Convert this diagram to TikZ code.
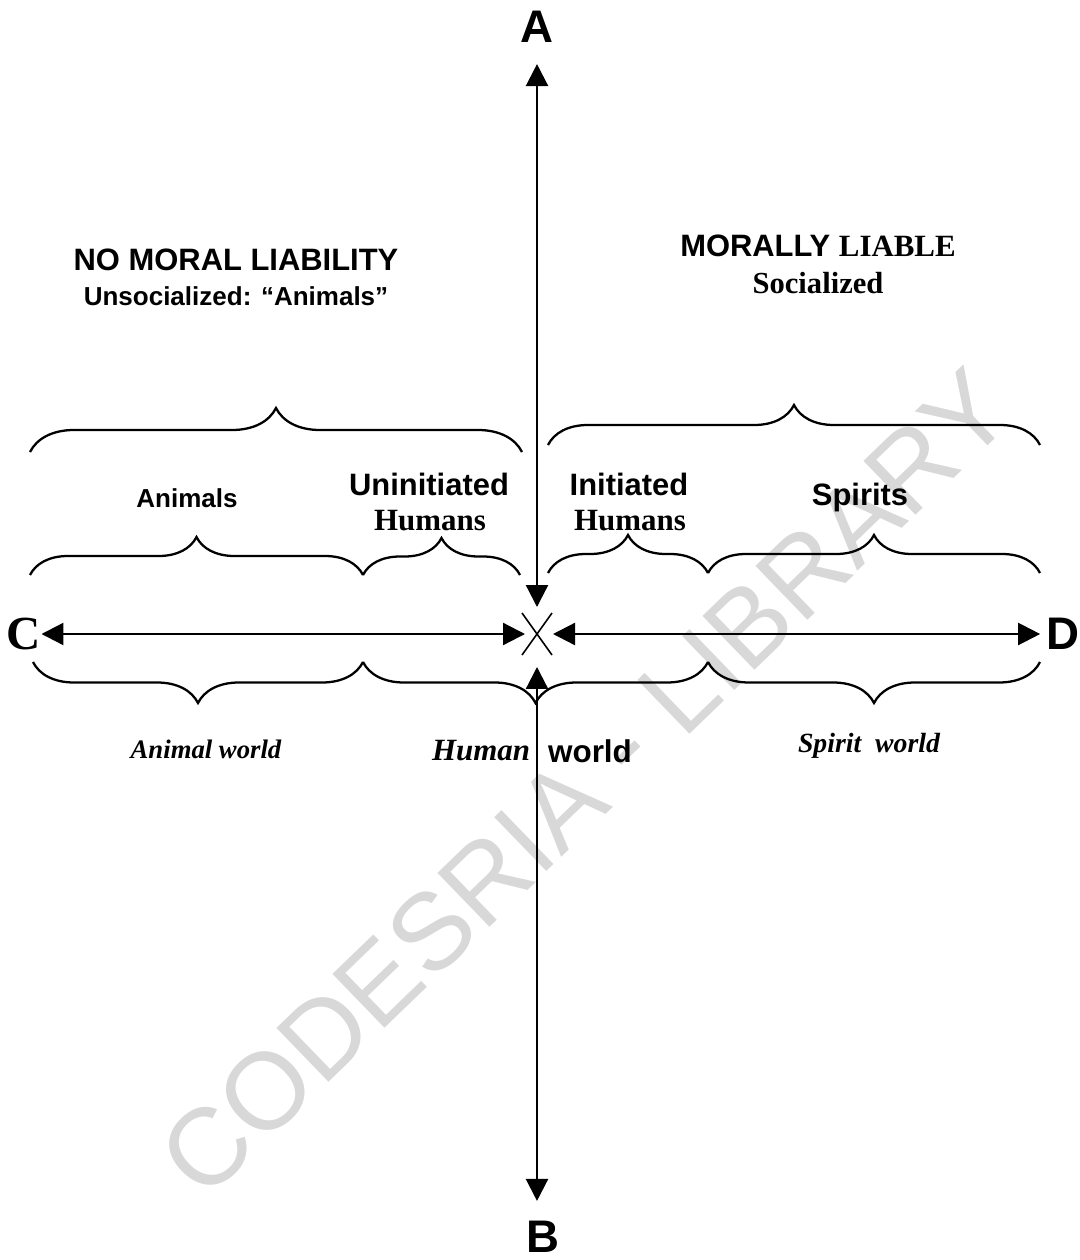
\documentclass[tikz,border=0pt]{standalone}
\usepackage{fontspec}
\setmainfont{Liberation Serif}
\setsansfont{Liberation Sans}
\usetikzlibrary{arrows.meta, decorations.pathreplacing}
\definecolor{stampgray}{RGB}{216, 216, 216}
\newcommand{\fsz}[1]{\fontsize{#1pt}{#1pt}\selectfont}

\begin{document}
\begin{tikzpicture}[x=0.02cm, y=-0.02cm,
        lbl/.style={inner sep=0pt, text=black},
        sanslbl/.style={lbl, font={\sffamily\bfseries\fsz{#1}}},
        seriflbl/.style={lbl, font={\rmfamily\bfseries\fsz{#1}}},
        worldlbl/.style={lbl, font={\rmfamily\bfseries\itshape\fsz{#1}}},
        axisline/.style={line width=1.3pt,
            {Triangle[length=4.4mm, width=4.4mm]}-{Triangle[length=4.4mm, width=4.4mm]}},
        brc/.style={decorate, line width=1.3pt, decoration={brace, amplitude=#1}}
    ]
    \useasboundingbox (0,0) rectangle (1079,1260);

    % watermark behind everything
    \node[rotate=44, text=stampgray, inner sep=0pt, font=\sffamily\fsz{62}] (stamp) at (585,783)
        {CODESRIA - LIBRARY};

    % axis ends
    \node[sanslbl=26] (A) at (537,27) {A};
    \node[sanslbl=26] (B) at (543,1237) {B};
    \node[seriflbl=27] (C) at (24,634) {C};
    \node[sanslbl=26] (D) at (1063,634) {D};
    \coordinate (ctr) at (537,634);

    \draw[axisline, shorten <=0.54cm, shorten >=0.42cm] (ctr) -- (ctr |- A.south);
    \draw[axisline, shorten <=0.66cm, shorten >=0.4cm] (ctr) -- (ctr |- B.north);
    \draw[axisline, shorten >=0.24cm] (C) -- (ctr);
    \draw[axisline, shorten <=0.32cm, shorten >=0.12cm] (ctr) -- (D);
    \draw[line width=0.9pt] (ctr) +(-15,-21) -- +(15,21)
                            (ctr) +(15,-21) -- +(-15,21);

    % moral halves
    \draw[brc=0.88cm] (30,452) -- (522,452);
    \draw[brc=0.8cm] (548,445) -- (1040,445);
    % groups
    \draw[brc=0.76cm] (30,575) -- (363,575);
    \draw[brc=0.74cm] (363,575) -- (520,575);
    \draw[brc=0.76cm] (548,573) -- (708,573);
    \draw[brc=0.76cm] (708,573) -- (1040,573);
    % worlds
    \draw[brc=0.82cm] (363,662) -- (33,662);
    \draw[brc=0.82cm] (708,662) -- (363,662);
    \draw[brc=0.82cm] (1040,662) -- (708,662);

    \node[sanslbl=17.6] (nomoral) at (236,260) {NO MORAL LIABILITY};
    \node[sanslbl=14.8] (unsoc) at (236,296) {Unsocialized: “Animals”};
    \node[seriflbl=17.6] (liable) at (818,246) {\sffamily MORALLY \rmfamily LIABLE};
    \node[seriflbl=17.4] (soc) at (818,283) {Socialized};

    \node[sanslbl=14.8] (animals) at (187,498) {Animals};
    \node[sanslbl=17.6] (uninit) at (429,484) {Uninitiated};
    \node[seriflbl=17.6] (uhum) at (430,521) {Humans};
    \node[sanslbl=17.6] (init) at (629,484) {Initiated};
    \node[seriflbl=17.6] (ihum) at (630,521) {Humans};
    \node[sanslbl=17.6] (spirits) at (860,498) {Spirits};

    \node[worldlbl=15.2] (animalw) at (206,749) {Animal world};
    \node[worldlbl=17.6] (humanw) at (481,751) {Human};
    \node[sanslbl=17.9] (worldw) at (590,751) {world};
    \node[worldlbl=15.8] (spiritw) at (869,746) {Spirit\ \ world};

\end{tikzpicture}
\end{document}
